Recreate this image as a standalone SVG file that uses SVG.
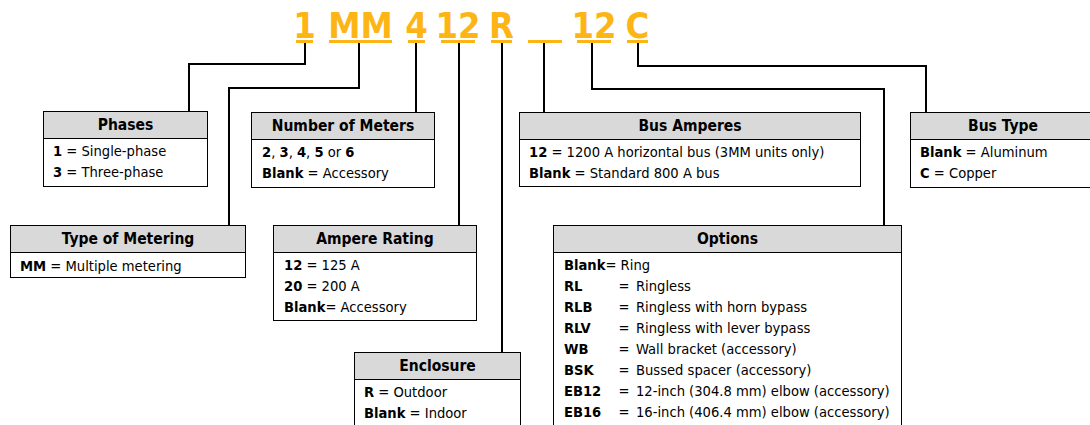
<svg xmlns="http://www.w3.org/2000/svg" width="1090" height="425" viewBox="0 0 1090 425">
<style>
.code{font-family:"DejaVu Sans Condensed","DejaVu Sans",sans-serif;font-stretch:condensed;font-weight:bold;font-size:36px;fill:#FDB515;text-anchor:middle}
.ul{stroke:#FDB515;stroke-width:3;fill:none}
.ln{stroke:#000;stroke-width:2;fill:none}
.box{fill:#fff;stroke:#000;stroke-width:1}
.hd{fill:#d9d9d9;stroke:#000;stroke-width:1}
.ht{font-family:"DejaVu Sans Condensed","DejaVu Sans",sans-serif;font-stretch:condensed;font-weight:bold;font-size:15.5px;fill:#000;text-anchor:middle}
.t{font-family:"DejaVu Sans Condensed","DejaVu Sans",sans-serif;font-stretch:condensed;font-size:14.6px;fill:#000}
.eq{text-anchor:middle}
.b{font-weight:bold}
</style>
<rect width="1090" height="425" fill="#fff"/>
<g id="code">
<text class="code" x="304.5" y="38">1</text>
<text class="code" x="360.5" y="38">MM</text>
<text class="code" x="416.5" y="38">4</text>
<text class="code" x="458" y="38">12</text>
<text class="code" x="501.5" y="38">R</text>
<text class="code" x="594" y="38">12</text>
<text class="code" x="637.5" y="38">C</text>
<path class="ul" d="M296 41.5H313M329 41.5H392M408 41.5H425M441 41.5H475M491 41.5H512M528 41.5H562M577 41.5H611M627 41.5H648"/>
</g>
<g id="connectors">
<path class="ln" d="M305 43V64H189V112"/>
<path class="ln" d="M359 43V88H229V226"/>
<path class="ln" d="M416 43V113"/>
<path class="ln" d="M459 43V226"/>
<path class="ln" d="M502 43V353"/>
<path class="ln" d="M544 43V113"/>
<path class="ln" d="M592 43V89H884V226"/>
<path class="ln" d="M638 43V66H926V113"/>
</g>
<g id="phases">
<rect class="box" x="43.5" y="111.5" width="164" height="75"/>
<rect class="hd" x="43.5" y="111.5" width="164" height="27"/>
<text class="ht" x="125.5" y="130">Phases</text>
<text class="t" x="53" y="156"><tspan class="b">1</tspan> = Single-phase</text>
<text class="t" x="53" y="177"><tspan class="b">3</tspan> = Three-phase</text>
</g>
<g id="type-of-metering">
<rect class="box" x="10.5" y="225.5" width="235" height="52"/>
<rect class="hd" x="10.5" y="225.5" width="235" height="27"/>
<text class="ht" x="128" y="244">Type of Metering</text>
<text class="t" x="20" y="271"><tspan class="b">MM</tspan> = Multiple metering</text>
</g>
<g id="number-of-meters">
<rect class="box" x="251.5" y="112.5" width="183" height="75"/>
<rect class="hd" x="251.5" y="112.5" width="183" height="27"/>
<text class="ht" x="343" y="131">Number of Meters</text>
<text class="t" x="262" y="157"><tspan class="b">2</tspan>, <tspan class="b">3</tspan>, <tspan class="b">4</tspan>, <tspan class="b">5</tspan> or <tspan class="b">6</tspan></text>
<text class="t" x="262" y="178"><tspan class="b">Blank</tspan> = Accessory</text>
</g>
<g id="ampere-rating">
<rect class="box" x="273.5" y="225.5" width="203" height="95"/>
<rect class="hd" x="273.5" y="225.5" width="203" height="27"/>
<text class="ht" x="375" y="244">Ampere Rating</text>
<text class="t" x="284" y="270"><tspan class="b">12</tspan> = 125 A</text>
<text class="t" x="284" y="291"><tspan class="b">20</tspan> = 200 A</text>
<text class="t" x="284" y="312"><tspan class="b">Blank</tspan>= Accessory</text>
</g>
<g id="enclosure">
<rect class="box" x="354.5" y="352.5" width="166" height="80"/>
<rect class="hd" x="354.5" y="352.5" width="166" height="27"/>
<text class="ht" x="437.5" y="371">Enclosure</text>
<text class="t" x="364" y="397"><tspan class="b">R</tspan> = Outdoor</text>
<text class="t" x="364" y="418"><tspan class="b">Blank</tspan> = Indoor</text>
</g>
<g id="bus-amperes">
<rect class="box" x="519.5" y="112.5" width="341" height="74"/>
<rect class="hd" x="519.5" y="112.5" width="341" height="27"/>
<text class="ht" x="690" y="131">Bus Amperes</text>
<text class="t" x="529" y="157"><tspan class="b">12</tspan> = 1200 A horizontal bus (3MM units only)</text>
<text class="t" x="529" y="178"><tspan class="b">Blank</tspan> = Standard 800 A bus</text>
</g>
<g id="bus-type">
<rect class="box" x="910.5" y="112.5" width="186" height="75"/>
<rect class="hd" x="910.5" y="112.5" width="186" height="27"/>
<text class="ht" x="1003" y="131">Bus Type</text>
<text class="t" x="920" y="157"><tspan class="b">Blank</tspan> = Aluminum</text>
<text class="t" x="920" y="178"><tspan class="b">C</tspan> = Copper</text>
</g>
<g id="options">
<rect class="box" x="553.5" y="225.5" width="348" height="210"/>
<rect class="hd" x="553.5" y="225.5" width="348" height="27"/>
<text class="ht" x="727.5" y="244">Options</text>
<text class="t" x="564" y="270"><tspan class="b">Blank</tspan>= Ring</text>
<text class="t b" x="564" y="291">RL</text><text class="t eq" x="624" y="291">=</text><text class="t" x="636" y="291">Ringless</text>
<text class="t b" x="564" y="312">RLB</text><text class="t eq" x="624" y="312">=</text><text class="t" x="636" y="312">Ringless with horn bypass</text>
<text class="t b" x="564" y="333">RLV</text><text class="t eq" x="624" y="333">=</text><text class="t" x="636" y="333">Ringless with lever bypass</text>
<text class="t b" x="564" y="354">WB</text><text class="t eq" x="624" y="354">=</text><text class="t" x="636" y="354">Wall bracket (accessory)</text>
<text class="t b" x="564" y="375">BSK</text><text class="t eq" x="624" y="375">=</text><text class="t" x="636" y="375">Bussed spacer (accessory)</text>
<text class="t b" x="564" y="396">EB12</text><text class="t eq" x="624" y="396">=</text><text class="t" x="636" y="396">12-inch (304.8 mm) elbow (accessory)</text>
<text class="t b" x="564" y="417">EB16</text><text class="t eq" x="624" y="417">=</text><text class="t" x="636" y="417">16-inch (406.4 mm) elbow (accessory)</text>
</g>
</svg>
